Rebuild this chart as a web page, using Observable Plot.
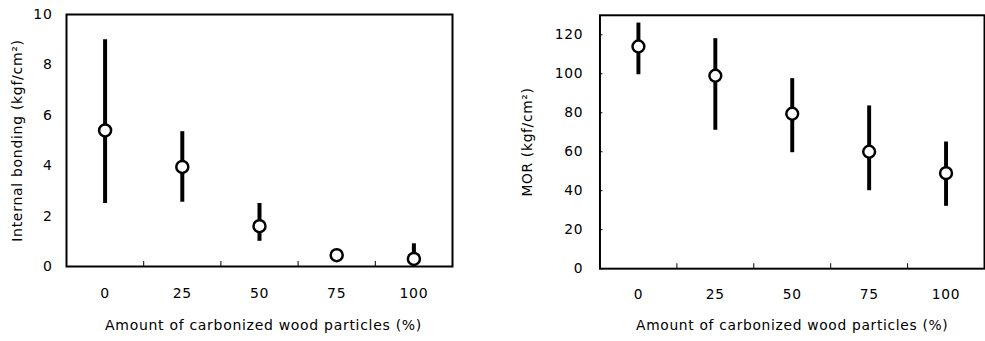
<!DOCTYPE html>
<html>
<head>
<meta charset="utf-8">
<script src="https://cdn.jsdelivr.net/npm/d3@7"></script>
<script src="https://cdn.jsdelivr.net/npm/@observablehq/plot@0.6"></script>
<style>
  html, body { margin: 0; padding: 0; background: #fff; }
  #wrap { position: relative; width: 985px; height: 341px; overflow: hidden; background: #fff; }
  #left, #right { position: absolute; top: 0; }
  #left { left: 0; }
  #right { left: 492px; }
  svg text { letter-spacing: 0.7px; }
</style>
</head>
<body>
<div id="wrap"><div id="left"></div><div id="right"></div></div>
<script>
// ---- data ----
const amounts = [0, 25, 50, 75, 100];
const ibMean = [5.4, 3.95, 1.6, 0.45, 0.3];
const ibLow = [2.5, 2.55, 1.0, 0.35, 0.0];
const ibHigh = [9.0, 5.35, 2.5, 0.65, 0.9];
const morMean = [114, 99, 79.5, 60, 49];
const morLow = [99.5, 71, 59.5, 40, 32];
const morHigh = [126, 118, 97.5, 83.5, 65];

const xTicks = [0, 25, 50, 75, 100];
const xMinorTicks = [12.5, 37.5, 62.5, 87.5];
const ibTicks = [0, 2, 4, 6, 8, 10];
const morTicks = [0, 20, 40, 60, 80, 100, 120];

const xLabel = "Amount of carbonized wood particles (%)";
const ibLabel = "Internal bonding (kgf/cm\u00B2)";
const morLabel = "MOR (kgf/cm\u00B2)";

const ibData = amounts.map((a, i) => ({a, m: ibMean[i], lo: ibLow[i], hi: ibHigh[i]}));
const morData = amounts.map((a, i) => ({a, m: morMean[i], lo: morLow[i], hi: morHigh[i]}));

const font = "DejaVu Sans, sans-serif";

function makeChart({data, yDomain, yTicks, yLabel, width, marginLeft, marginRight, marginTop, marginBottom, yLabelDx, yTickPad, xTickPad, xLabelDx, xLabelDy, innerYTicks}) {
  return Plot.plot({
    width, height: 341,
    marginLeft, marginRight, marginTop, marginBottom,
    style: {fontFamily: font, fontSize: "14px", color: "#000", background: "#fff"},
    x: {domain: [-12.5, 112.5]},
    y: {domain: yDomain},
    marks: [
      Plot.axisX({ticks: xTicks, tickSize: 0, tickPadding: xTickPad, label: null, fontSize: 14}),
      Plot.axisX({ticks: xMinorTicks, tickSize: 5, dy: -5, text: null, label: null, strokeWidth: 1}),
      Plot.axisY({ticks: yTicks, tickSize: 0, tickPadding: yTickPad, label: null, fontSize: 14}),
      ...(innerYTicks ? [Plot.axisY({ticks: yTicks, tickSize: 3, dx: 3, text: null, label: null})] : []),
      Plot.frame({stroke: "#000", strokeWidth: 2}),
      Plot.ruleX(data, {x: "a", y1: "lo", y2: "hi", stroke: "#000", strokeWidth: 4}),
      Plot.dot(data, {x: "a", y: "m", r: 6, fill: "#fff", stroke: "#000", strokeWidth: 2.5}),
      Plot.text([yLabel], {frameAnchor: "left", dx: yLabelDx, rotate: -90, text: d => d, textAnchor: "middle", lineAnchor: "middle", fontSize: 14, fill: "#000"}),
      Plot.text([xLabel], {frameAnchor: "bottom", dx: xLabelDx, dy: xLabelDy, text: d => d, textAnchor: "middle", lineAnchor: "middle", fontSize: 14, fill: "#000"})
    ]
  });
}

document.getElementById("left").append(makeChart({
  data: ibData, yDomain: [0, 10], yTicks: ibTicks, yLabel: ibLabel,
  width: 492, marginLeft: 66, marginRight: 40, marginTop: 14, marginBottom: 75,
  yLabelDx: -49, yTickPad: 14, xTickPad: 22, xLabelDx: 4, xLabelDy: 59, innerYTicks: false
}));

document.getElementById("right").append(makeChart({
  data: morData, yDomain: [0, 130], yTicks: morTicks, yLabel: morLabel,
  width: 500, marginLeft: 109, marginRight: 1, marginTop: 15, marginBottom: 69,
  yLabelDx: -73, yTickPad: 17, xTickPad: 21, xLabelDx: 0, xLabelDy: 58, innerYTicks: true
}));
</script>
</body>
</html>
